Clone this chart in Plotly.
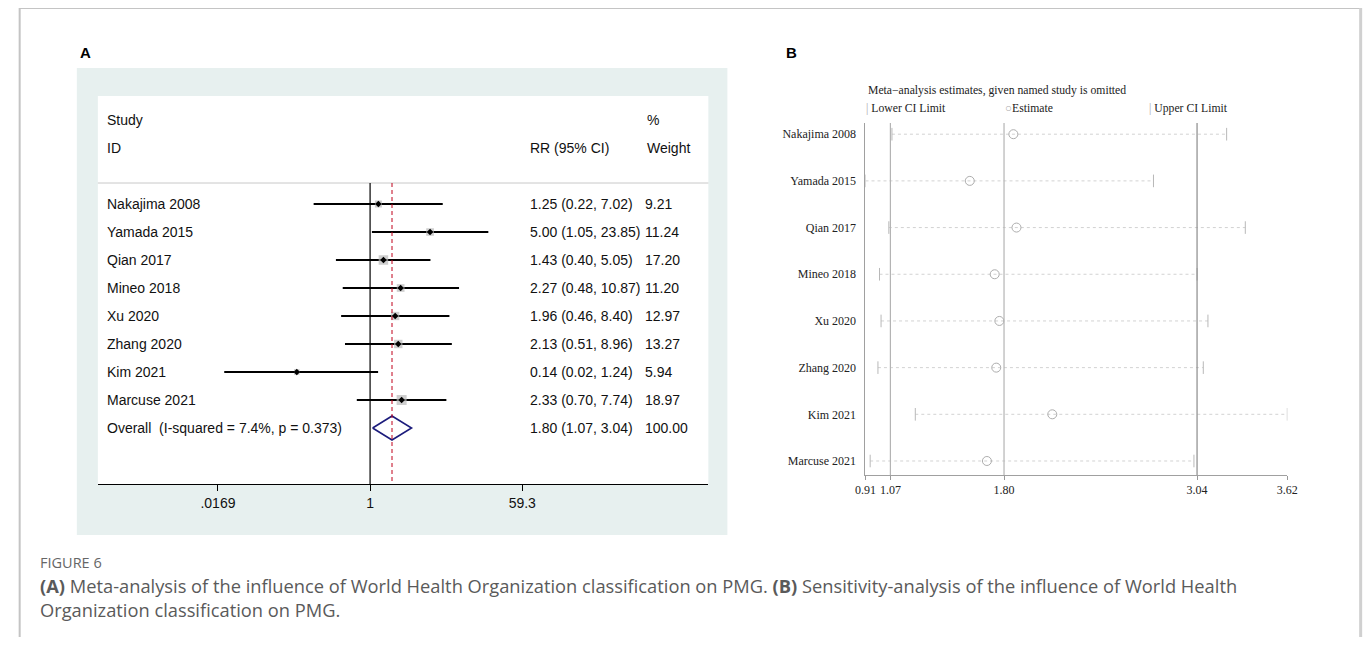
import math
import plotly.graph_objects as go

# figure sized to fit inside the 1372x645 window next to the page's body margin
FW, FH = 1364, 629
# observed screen mapping of figure coordinates: X = SX0 + SXK * x_fig ; Y = SY0 + y_fig
SX0, SXK, SY0 = 20.2, 0.9838, 8.0

# ---------------- data ----------------
studies = ["Nakajima 2008", "Yamada 2015", "Qian 2017", "Mineo 2018", "Xu 2020",
           "Zhang 2020", "Kim 2021", "Marcuse 2021"]
rr = [1.25, 5.00, 1.43, 2.27, 1.96, 2.13, 0.14, 2.33]
rr_lo = [0.22, 1.05, 0.40, 0.48, 0.46, 0.51, 0.02, 0.70]
rr_hi = [7.02, 23.85, 5.05, 10.87, 8.40, 8.96, 1.24, 7.74]
weights = [9.21, 11.24, 17.20, 11.20, 12.97, 13.27, 5.94, 18.97]
overall_rr, overall_lo, overall_hi, overall_w = 1.80, 1.07, 3.04, 100.00
overall_label = "Overall  (I-squared = 7.4%, p = 0.373)"
a_tickvals = [0.0169, 1, 59.3]
a_ticktext = [".0169", "1", "59.3"]

sens_est = [1.86, 1.58, 1.88, 1.74, 1.77, 1.75, 2.11, 1.69]
sens_lo = [1.08, 0.91, 1.06, 1.00, 1.01, 0.99, 1.23, 0.94]
sens_hi = [3.23, 2.76, 3.35, 3.04, 3.11, 3.08, 3.62, 3.02]
b_ticks = [0.91, 1.07, 1.80, 3.04, 3.62]
b_ref = [1.07, 1.80, 3.04]


def px(x):
    """screen x (px) -> paper x"""
    return ((x - SX0) / SXK) / FW


def py(y):
    """screen y (px) -> paper y"""
    return 1 - (y - SY0) / FH


fig = go.Figure()

# ---------------- Panel A (forest plot) ----------------
rows = list(range(len(studies)))
ci_x, ci_y = [], []
for i in rows:
    ci_x += [rr_lo[i], rr_hi[i], None]
    ci_y += [i, i, None]
fig.add_trace(go.Scatter(x=ci_x, y=ci_y, mode="lines", line=dict(color="black", width=2),
                         xaxis="x", yaxis="y", hoverinfo="skip", showlegend=False))
fig.add_trace(go.Scatter(x=rr, y=rows, mode="markers",
                         marker=dict(symbol="square", color="#b9b9b9",
                                     size=[2.3 * math.sqrt(w) for w in weights], line=dict(width=0)),
                         xaxis="x", yaxis="y", showlegend=False))
fig.add_trace(go.Scatter(x=rr, y=rows, mode="markers",
                         marker=dict(symbol="diamond", color="black", size=5),
                         xaxis="x", yaxis="y", showlegend=False))
yo = len(studies)
dh = 0.43
fig.add_trace(go.Scatter(x=[overall_lo, overall_rr, overall_hi, overall_rr, overall_lo],
                         y=[yo, yo - dh, yo, yo + dh, yo], mode="lines",
                         line=dict(color="#1c1c7c", width=1.6),
                         xaxis="x", yaxis="y", showlegend=False))

# ---------------- Panel B (sensitivity) ----------------
brows = list(range(len(studies)))
dl_x, dl_y, tk_x, tk_y = [], [], [], []
for i in brows:
    dl_x += [sens_lo[i], sens_hi[i], None]
    dl_y += [i, i, None]
    tk_x += [sens_lo[i], sens_hi[i]]
    tk_y += [i, i]
fig.add_trace(go.Scatter(x=dl_x, y=dl_y, mode="lines", line=dict(color="#d2d2d2", width=1, dash="dot"),
                         xaxis="x2", yaxis="y2", showlegend=False))
fig.add_trace(go.Scatter(x=tk_x, y=tk_y, mode="markers",
                         marker=dict(symbol="line-ns", size=9, line=dict(color="#b8b8b8", width=1)),
                         xaxis="x2", yaxis="y2", showlegend=False))
fig.add_trace(go.Scatter(x=sens_est, y=brows, mode="markers",
                         marker=dict(symbol="circle-open", size=9, color="#adadad", line=dict(width=1)),
                         xaxis="x2", yaxis="y2", showlegend=False))

shapes = []
# page border (top, left, right)
shapes.append(dict(type="line", xref="paper", yref="paper", x0=0, x1=1, y0=1, y1=1,
                   line=dict(color="#c4c4c4", width=2)))
shapes.append(dict(type="line", xref="paper", yref="paper", x0=0.0005, x1=0.0005, y0=1, y1=0,
                   line=dict(color="#c4c4c4", width=2)))
shapes.append(dict(type="line", xref="paper", yref="paper", x0=0.999, x1=0.999, y0=1, y1=0,
                   line=dict(color="#d0d0d0", width=3)))
# panel A backgrounds
shapes.append(dict(type="rect", xref="paper", yref="paper", x0=px(78), x1=px(728), y0=py(535), y1=py(68),
                   fillcolor="#e7f0ef", line=dict(width=0), layer="below"))
shapes.append(dict(type="rect", xref="paper", yref="paper", x0=px(99), x1=px(709), y0=py(484), y1=py(96),
                   fillcolor="white", line=dict(width=0), layer="below"))
# header line
shapes.append(dict(type="line", xref="x domain", yref="y", x0=0, x1=1, y0=-0.75, y1=-0.75,
                   line=dict(color="#c8c8c8", width=1)))
# null line and overall line
shapes.append(dict(type="line", xref="x", yref="y", x0=1, x1=1, y0=-0.75, y1=10,
                   line=dict(color="black", width=1.2)))
shapes.append(dict(type="line", xref="x", yref="y", x0=overall_rr, x1=overall_rr, y0=-0.75, y1=10,
                   line=dict(color="#c0001a", width=1, dash="4px,3px")))
# panel B reference lines
for v in b_ref:
    shapes.append(dict(type="line", xref="x2", yref="y2 domain", x0=v, x1=v, y0=0, y1=1,
                       line=dict(color="#8a8a8a" if v == b_ref[-1] else "#b4b4b4", width=1.2)))

ann = []
fA = dict(family="Liberation Sans, Arial", size=14, color="#111")
# header
ann.append(dict(x=px(106), y=-3, xref="paper", yref="y", text="Study", showarrow=False, xanchor="left", font=fA))
ann.append(dict(x=px(106), y=-2, xref="paper", yref="y", text="ID", showarrow=False, xanchor="left", font=fA))
ann.append(dict(x=px(529), y=-2, xref="paper", yref="y", text="RR (95% CI)", showarrow=False, xanchor="left", font=fA))
ann.append(dict(x=px(646), y=-3, xref="paper", yref="y", text="%", showarrow=False, xanchor="left", font=fA))
ann.append(dict(x=px(646), y=-2, xref="paper", yref="y", text="Weight", showarrow=False, xanchor="left", font=fA))
for i, s in enumerate(studies):
    ann.append(dict(x=px(106), y=i, xref="paper", yref="y", text=s, showarrow=False, xanchor="left", font=fA))
    ann.append(dict(x=px(529), y=i, xref="paper", yref="y",
                    text=f"{rr[i]:.2f} ({rr_lo[i]:.2f}, {rr_hi[i]:.2f})",
                    showarrow=False, xanchor="left", font=fA))
    ann.append(dict(x=px(644), y=i, xref="paper", yref="y", text=f"{weights[i]:.2f}",
                    showarrow=False, xanchor="left", font=fA))
ann.append(dict(x=px(106), y=yo, xref="paper", yref="y", text=overall_label, showarrow=False, xanchor="left", font=fA))
ann.append(dict(x=px(529), y=yo, xref="paper", yref="y",
                text=f"{overall_rr:.2f} ({overall_lo:.2f}, {overall_hi:.2f})",
                showarrow=False, xanchor="left", font=fA))
ann.append(dict(x=px(644), y=yo, xref="paper", yref="y", text=f"{overall_w:.2f}",
                showarrow=False, xanchor="left", font=fA))

# panel letters
fL = dict(family="Liberation Sans, Arial", size=15, color="black")
ann.append(dict(x=px(79), y=py(52), xref="paper", yref="paper", text="<b>A</b>", showarrow=False,
                xanchor="left", yanchor="middle", font=fL))
ann.append(dict(x=px(785), y=py(52), xref="paper", yref="paper", text="<b>B</b>", showarrow=False,
                xanchor="left", yanchor="middle", font=fL))

# panel B legend header
fT = dict(family="Liberation Serif, Times New Roman", size=12, color="#222")
fT2 = dict(family="Liberation Serif, Times New Roman", size=11.7, color="#222")
ann.append(dict(x=px(867), y=py(90), xref="paper", yref="paper",
                text="Meta\u2212analysis estimates, given named study is omitted",
                showarrow=False, xanchor="left", yanchor="middle", font=fT2))
ann.append(dict(x=px(865), y=py(108), xref="paper", yref="paper",
                text="<span style='color:#aaa'>|</span> Lower CI Limit",
                showarrow=False, xanchor="left", yanchor="middle", font=fT2))
ann.append(dict(x=px(1003), y=py(108), xref="paper", yref="paper",
                text="<span style='color:#aaa'>\u25cb</span>Estimate",
                showarrow=False, xanchor="left", yanchor="middle", font=fT2))
ann.append(dict(x=px(1147), y=py(108), xref="paper", yref="paper",
                text="<span style='color:#aaa'>|</span> Upper CI Limit",
                showarrow=False, xanchor="left", yanchor="middle", font=fT2))

# caption
fC = dict(family="Open Sans, Noto Sans", size=18.3, color="#5a5a5a")
ann.append(dict(x=px(39), y=py(562), xref="paper", yref="paper", text="FIGURE 6", showarrow=False,
                xanchor="left", yanchor="middle", font=dict(family="Open Sans, Noto Sans", size=14.5, color="#666")))
ann.append(dict(x=px(39), y=py(585), xref="paper", yref="paper",
                text="<b>(A)</b> Meta-analysis of the influence of World Health Organization classification on PMG. "
                     "<b>(B)</b> Sensitivity-analysis of the influence of World Health",
                showarrow=False, xanchor="left", yanchor="middle", font=fC))
ann.append(dict(x=px(39), y=py(609), xref="paper", yref="paper",
                text="Organization classification on PMG.",
                showarrow=False, xanchor="left", yanchor="middle", font=fC))

# ranges for panel A (log axis): 1 sits at screen x=371, 37.25 px per ln unit
ln_per_px = 1 / 37.25
a_lo = (99 - 371) * ln_per_px / math.log(10)
a_hi = (709 - 371) * ln_per_px / math.log(10)
# rows 28 px apart, first study row at screen y=204
a_ytop = -(204 - 96) / 28
a_ybot = (484 - 204) / 28

fig.update_layout(
    width=FW, height=FH, margin=dict(l=0, r=0, t=0, b=0),
    paper_bgcolor="white", plot_bgcolor="rgba(0,0,0,0)",
    showlegend=False,
    shapes=shapes, annotations=ann,
    xaxis=dict(domain=[px(99), px(709)], type="log", range=[a_lo, a_hi],
               tickvals=a_tickvals, ticktext=a_ticktext, ticks="outside", ticklen=6,
               tickcolor="black", showline=True, linecolor="black", linewidth=1,
               showgrid=False, zeroline=False, anchor="y",
               tickfont=dict(family="Liberation Sans, Arial", size=14, color="#111")),
    yaxis=dict(domain=[py(484), py(96)], range=[a_ybot, a_ytop], visible=False, anchor="x"),
    xaxis2=dict(domain=[px(866), px(1287.5)], range=[0.91, 3.62], tickvals=b_ticks,
                ticktext=[f"{t:.2f}" for t in b_ticks], ticks="outside", ticklen=4,
                tickcolor="#999", showline=True, linecolor="#a0a0a0", linewidth=1,
                showgrid=False, zeroline=False, anchor="y2",
                tickfont=fT),
    yaxis2=dict(domain=[py(475), py(123)], range=[7.3, -0.24], tickvals=brows, ticktext=studies,
                ticks="", showline=True, linecolor="#a0a0a0", linewidth=1, showgrid=False,
                zeroline=False, anchor="x2", ticklabelstandoff=6,
                tickfont=fT),
)

fig.write_html("out.html")
